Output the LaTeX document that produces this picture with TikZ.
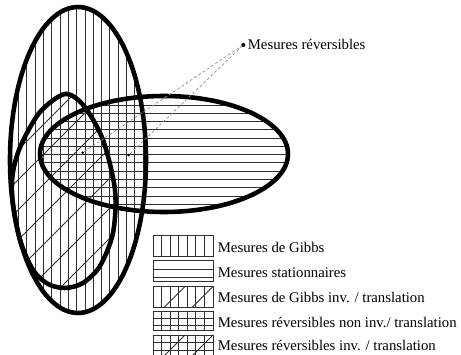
\documentclass[tikz,border=0pt]{standalone}
\usepackage{fontspec}
\setmainfont{Liberation Serif}
\usepackage{tikz}
\usetikzlibrary{calc}
\definecolor{trait}{HTML}{303030}
\definecolor{pointille}{HTML}{8C8C8C}
\newcommand{\oeuf}{plot[smooth cycle] coordinates {(65,94) (84,106) (103,140) (115,190) (113,233) (100,266) (83,283) (65,288) (48,284) (33,270) (20,240) (12.5,200) (13,172) (21,145) (40,112)}}

\begin{document}
\begin{tikzpicture}[x=0.02cm,y=-0.02cm,
  hachure/.style={trait,line width=0.5pt},
  contour/.style={line width=2.6pt},
  tirets/.style={pointille,line width=0.4pt,dash pattern=on 1.6pt off 1.3pt},
  point/.style={circle,fill,inner sep=0pt,minimum size=1.7pt},
  case/.style={draw=trait,line width=0.45pt},
  legende/.style={anchor=base west,inner sep=0pt,font=\fontsize{8.4}{10}\selectfont}]
\useasboundingbox (0,0) rectangle (461,355);
\begin{scope}
\clip (78,160) ellipse (68 and 153);
\foreach \x in {18.3,26.63,...,147} \draw[hachure] (\x,0)--(\x,320);
\end{scope}
\begin{scope}
\clip (164,154) ellipse (124 and 58);
\foreach \y in {96.76,105.03,...,213} \draw[hachure] (30,\y)--(300,\y);
\end{scope}
\begin{scope}
\clip \oeuf;
\foreach \c in {108,138,...,408} \draw[hachure] (0,\c)--(\c,0);
\end{scope}
\draw[contour] (78,160) ellipse (68 and 153);
\draw[contour] (164,154) ellipse (124 and 58);
\draw[contour] \oeuf;

\node[point] (d1) at (82.7,152.7) {};
\node[point] (d2) at (128.7,155) {};
\node[point,minimum size=2.3pt] (rev) at (243.3,45) {};
\node[legende] (lrev) at (247.5,50) {Mesures réversibles};
\draw[tirets] (d1)--(rev);
\draw[tirets] (d2)--(rev);

\draw[case] (153,235) rectangle (213,256);
\foreach \i in {1,...,6} \draw[hachure] ({153+\i*60/7},235)--++(0,21);
\draw[case] (153,260) rectangle (213,281);
\draw[hachure] (153,269)--(213,269) (153,277)--(213,277);
\draw[case] (153,286.5) rectangle (213,307);
\foreach \i in {1,...,6} \draw[hachure] ({153+\i*60/7},286.5)--++(0,20.5);
\draw[hachure] (164.5,307)--(185,286.5) (192.5,307)--(213,286.5);
\draw[case] (153,311) rectangle (213,330.5);
\foreach \i in {1,...,6} \draw[hachure] ({153+\i*60/7},311)--++(0,19.5);
\draw[hachure] (153,318.3)--(213,318.3) (153,325)--(213,325);
\draw[case] (153,335) rectangle (213,356);
\foreach \i in {1,...,6} \draw[hachure] ({153+\i*60/7},335)--++(0,21);
\draw[hachure] (153,342.7)--(213,342.7) (153,350)--(213,350);
\draw[hachure] (164,356)--(185,335) (192,356)--(213,335);

\node[legende] (lgibbs) at (217.5,252.3) {Mesures de Gibbs};
\node[legende] (lstat) at (217.5,277.3) {Mesures stationnaires};
\node[legende] (lgibbsinv) at (217.5,302.3) {Mesures de Gibbs inv. / translation};
\node[legende] (lrevnon) at (217.5,327.3) {Mesures réversibles non inv./ translation};
\node[legende] (lrevinv) at (217.5,350.7) {Mesures réversibles inv. / translation};
\end{tikzpicture}
\end{document}
